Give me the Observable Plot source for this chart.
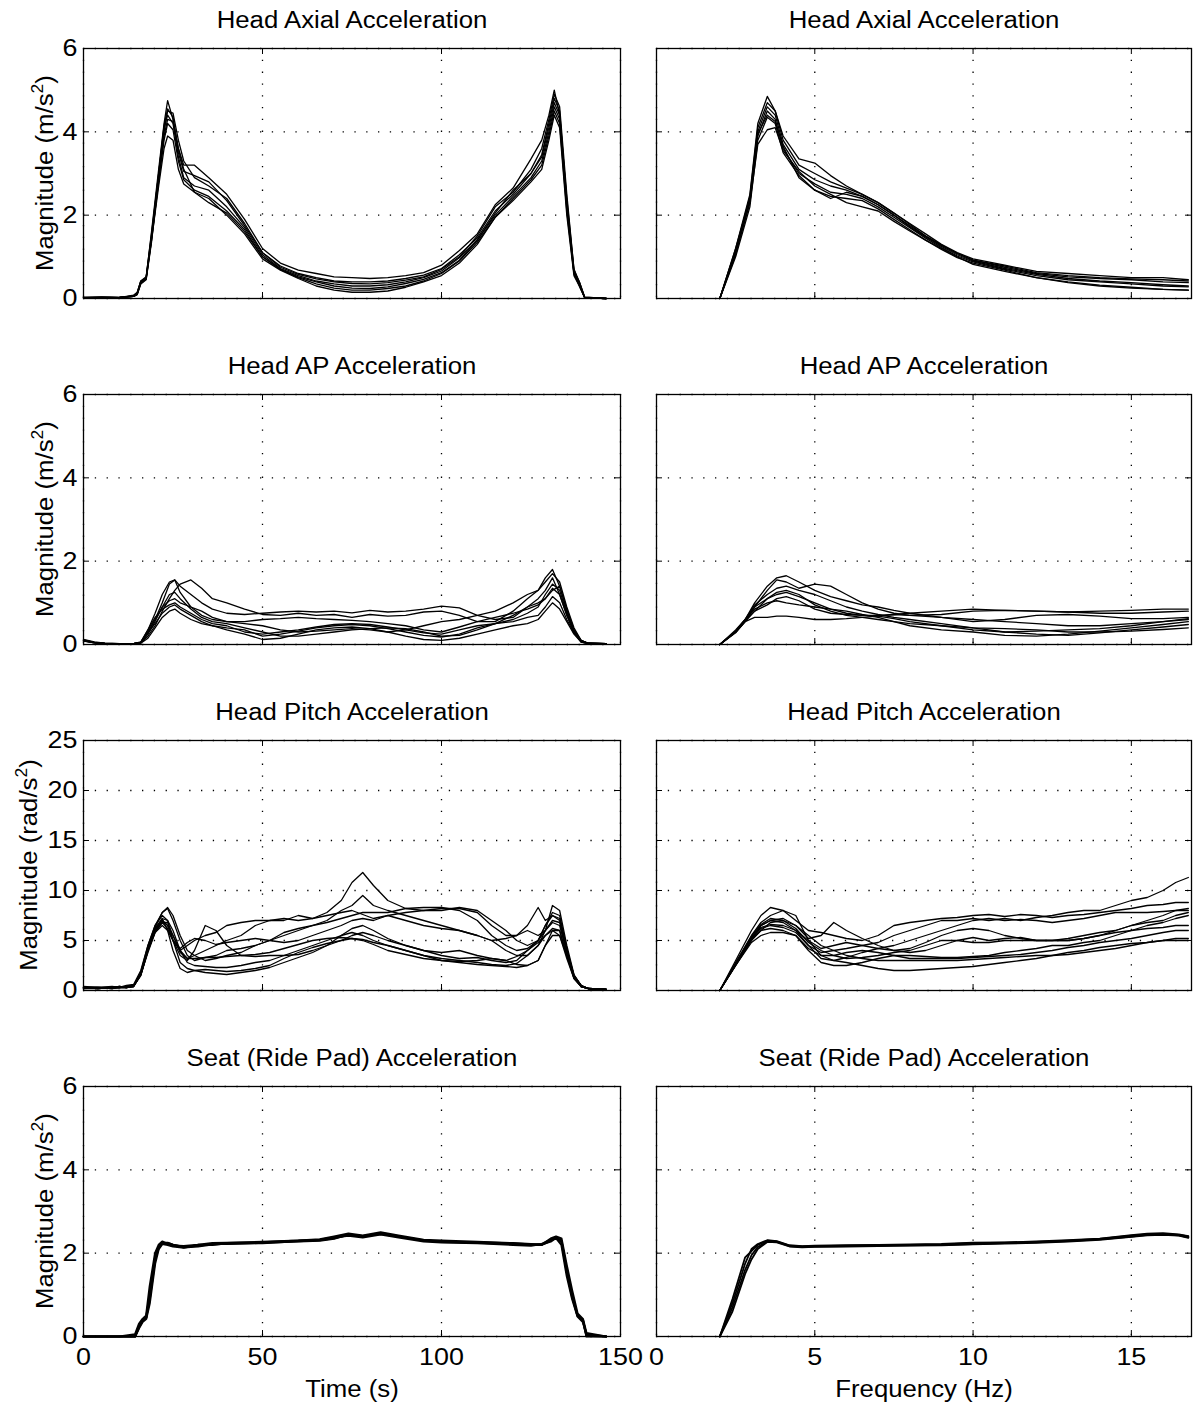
<!DOCTYPE html>
<html><head><meta charset="utf-8">
<script src="https://cdn.jsdelivr.net/npm/d3@7"></script>
<script src="https://cdn.jsdelivr.net/npm/@observablehq/plot@0.6"></script>
<style>
body{margin:0;background:#fff;}
#page{position:relative;width:1196px;height:1410px;font-family:"Liberation Sans",Arial,Helvetica,sans-serif;color:#000;overflow:hidden;}
.ttl{position:absolute;font-size:23px;line-height:1;white-space:nowrap;transform:translateX(-50%) scaleX(1.12);}
.ylab{position:absolute;font-size:23px;line-height:1;white-space:nowrap;transform:translate(-50%,-50%) rotate(-90deg) scaleX(1.12);}
.ylab sup{font-size:0.68em;line-height:0;vertical-align:0.62em;}
.xlab{position:absolute;font-size:23px;line-height:1;white-space:nowrap;transform:translateX(-50%) scaleX(1.12);}
</style></head>
<body><div id="page"></div>
<script>
// ---------- tick labels ----------
const timeTicks = [0, 50, 100, 150];
const freqTicks = [0, 5, 10, 15];
const magTicks = [0, 2, 4, 6];
const pitchTicks = [0, 5, 10, 15, 20, 25];

// ---------- Head Axial, time domain ----------
const axialTime = [0,5,10,14,15,16,17.5,19,21,22.5,23.5,25,26.5,28,31,35,40,45,50,55,60,65,70,75,80,85,90,95,100,105,110,115,120,125,128,130,131.5,133,135,137,138.5,140,146];
const axialTimeTrials = [
 [0.02,0.03,0.02,0.08,0.15,0.4,0.5,1.6,3.1,4.2,4.75,4.3,3.6,3.2,3.2,2.9,2.5,1.9,1.2,0.85,0.68,0.6,0.52,0.5,0.48,0.5,0.55,0.62,0.8,1.15,1.55,2.25,2.65,3.35,3.8,4.4,5.0,4.4,2.4,0.7,0.35,0.02,0],
 [0.03,0.02,0.03,0.05,0.1,0.35,0.45,1.4,2.9,4.0,4.5,4.45,3.8,3.3,2.9,2.7,2.4,1.8,1.1,0.78,0.6,0.5,0.42,0.4,0.4,0.42,0.48,0.56,0.72,1.05,1.45,2.1,2.5,3.0,3.45,4.2,4.8,4.5,2.3,0.65,0.4,0.03,0],
 [0.02,0.02,0.02,0.06,0.12,0.42,0.5,1.5,3.0,4.1,4.4,4.2,3.4,2.9,2.7,2.6,2.2,1.7,1.05,0.72,0.55,0.42,0.35,0.3,0.3,0.33,0.4,0.5,0.66,0.98,1.4,2.0,2.45,2.9,3.3,4.0,4.6,4.3,2.2,0.6,0.35,0.02,0],
 [0.02,0.04,0.02,0.05,0.1,0.38,0.48,1.45,2.8,3.8,4.2,4.05,3.3,2.85,2.6,2.45,2.1,1.65,1.0,0.7,0.5,0.35,0.25,0.2,0.2,0.24,0.3,0.42,0.6,0.9,1.35,1.95,2.4,2.85,3.2,3.9,4.5,4.2,2.1,0.6,0.3,0.02,0],
 [0.01,0.02,0.03,0.05,0.1,0.4,0.5,1.4,2.7,3.6,3.9,3.8,3.1,2.75,2.55,2.4,2.0,1.55,0.95,0.68,0.48,0.3,0.2,0.15,0.15,0.18,0.27,0.4,0.55,0.85,1.3,1.95,2.35,2.8,3.1,3.8,4.4,4.1,2.0,0.55,0.3,0.02,0],
 [0.02,0.03,0.02,0.07,0.14,0.42,0.52,1.55,3.0,4.15,4.55,4.35,3.5,3.05,2.95,2.8,2.35,1.75,1.1,0.75,0.58,0.47,0.4,0.36,0.35,0.38,0.44,0.52,0.7,1.0,1.5,2.2,2.55,3.1,3.6,4.3,4.9,4.6,2.5,0.7,0.4,0.03,0],
 [0.02,0.02,0.02,0.05,0.1,0.36,0.46,1.35,2.85,3.9,4.3,4.25,3.6,3.1,2.55,2.3,2.05,1.6,1.0,0.7,0.52,0.4,0.3,0.25,0.24,0.28,0.36,0.46,0.62,0.92,1.4,2.05,2.6,3.0,3.4,4.1,4.7,4.4,2.3,0.62,0.38,0.02,0]
];

// ---------- Head Axial, frequency domain ----------
const axialFreq = [2,2.5,2.95,3.2,3.5,3.75,4,4.5,5,5.5,6,6.5,7,7.5,8,8.5,9,9.5,10,11,12,13,14,15,16,16.8];
const axialFreqTrials = [
 [0,1.2,2.5,4.2,4.85,4.5,3.8,3.2,3.0,2.8,2.65,2.5,2.3,2.05,1.8,1.55,1.3,1.1,0.95,0.8,0.65,0.6,0.55,0.5,0.5,0.45],
 [0,1.1,2.3,4.0,4.6,4.4,3.7,3.1,2.85,2.7,2.6,2.45,2.25,2.0,1.75,1.5,1.28,1.08,0.92,0.75,0.6,0.52,0.48,0.45,0.4,0.38],
 [0,1.2,2.4,3.9,4.5,4.3,3.6,3.0,2.75,2.55,2.5,2.4,2.2,1.95,1.7,1.45,1.22,1.02,0.88,0.7,0.55,0.45,0.4,0.35,0.3,0.28],
 [0,1.0,2.2,3.8,4.35,4.2,3.5,2.95,2.6,2.45,2.4,2.35,2.15,1.9,1.65,1.4,1.18,0.98,0.85,0.68,0.5,0.4,0.32,0.27,0.22,0.2],
 [0,1.1,2.3,3.7,4.05,4.1,3.55,3.05,2.7,2.5,2.3,2.2,2.1,1.85,1.62,1.4,1.2,1.0,0.82,0.65,0.5,0.38,0.3,0.25,0.22,0.2],
 [0,1.15,2.45,4.1,4.7,4.5,3.9,3.35,3.25,2.95,2.7,2.5,2.3,2.05,1.78,1.5,1.28,1.08,0.92,0.78,0.62,0.55,0.5,0.47,0.45,0.42],
 [0,1.05,2.35,3.95,4.4,4.25,3.65,2.9,2.6,2.4,2.55,2.45,2.25,2.0,1.72,1.48,1.25,1.05,0.9,0.72,0.58,0.48,0.42,0.38,0.33,0.3]
];

// ---------- Head AP, time domain ----------
const apTime = [0,3,6,10,14,16,18,20,22,24,25.5,27,30,33,36,40,45,50,55,60,65,70,75,80,85,90,95,100,105,110,115,120,124,127,129,131,133,135,137,139,141,146];
const apTimeTrials = [
 [0.12,0.06,0.03,0.02,0.02,0.05,0.3,0.6,1.0,1.45,1.55,1.4,1.2,1.0,0.85,0.75,0.72,0.75,0.78,0.8,0.78,0.8,0.76,0.82,0.78,0.8,0.85,0.92,0.88,0.7,0.6,0.65,0.9,1.1,1.3,1.6,1.2,0.7,0.3,0.1,0.03,0.02],
 [0.1,0.05,0.02,0.02,0.02,0.04,0.2,0.45,0.8,1.1,1.3,1.45,1.55,1.35,1.1,1.0,0.85,0.72,0.7,0.75,0.7,0.72,0.65,0.72,0.68,0.7,0.78,0.8,0.7,0.55,0.55,0.8,1.1,1.3,1.6,1.8,1.4,0.8,0.35,0.1,0.03,0.02],
 [0.08,0.04,0.02,0.02,0.02,0.06,0.35,0.65,0.85,0.95,1.0,0.9,0.75,0.6,0.5,0.45,0.3,0.25,0.3,0.35,0.42,0.48,0.5,0.48,0.42,0.35,0.28,0.25,0.35,0.45,0.5,0.6,0.75,0.9,1.2,1.45,1.3,0.75,0.3,0.08,0.03,0.02],
 [0.1,0.05,0.02,0.02,0.02,0.03,0.15,0.4,0.65,0.8,0.85,0.75,0.6,0.5,0.45,0.35,0.25,0.12,0.15,0.25,0.35,0.4,0.42,0.38,0.3,0.2,0.12,0.1,0.15,0.25,0.35,0.45,0.5,0.6,0.8,1.0,0.85,0.55,0.25,0.06,0.02,0.02],
 [0.09,0.04,0.02,0.02,0.02,0.05,0.35,0.75,1.2,1.5,1.55,1.25,0.9,0.7,0.6,0.55,0.5,0.45,0.35,0.3,0.32,0.35,0.38,0.35,0.3,0.35,0.45,0.55,0.6,0.7,0.8,1.0,1.2,1.3,1.5,1.7,1.5,0.9,0.4,0.1,0.03,0.02],
 [0.11,0.05,0.03,0.02,0.02,0.04,0.25,0.55,0.9,1.2,1.25,1.1,0.85,0.65,0.55,0.5,0.4,0.3,0.2,0.2,0.25,0.3,0.35,0.38,0.4,0.38,0.3,0.2,0.22,0.35,0.5,0.7,0.9,1.0,1.1,1.3,1.4,0.85,0.35,0.08,0.03,0.02],
 [0.1,0.04,0.02,0.02,0.02,0.05,0.3,0.6,0.9,1.05,1.1,1.0,0.9,0.8,0.65,0.55,0.55,0.6,0.62,0.65,0.62,0.6,0.58,0.55,0.5,0.45,0.35,0.3,0.42,0.55,0.65,0.75,0.85,0.95,1.1,1.35,1.2,0.7,0.3,0.07,0.02,0.02],
 [0.09,0.05,0.02,0.02,0.02,0.04,0.28,0.5,0.75,0.9,0.95,0.85,0.7,0.55,0.45,0.4,0.35,0.2,0.25,0.32,0.4,0.45,0.48,0.45,0.38,0.3,0.22,0.18,0.25,0.4,0.5,0.55,0.65,0.7,0.9,1.15,1.0,0.6,0.28,0.06,0.02,0.02]
];

// ---------- Head AP, frequency domain ----------
const apFreq = [2,2.5,2.8,3.1,3.5,3.8,4.1,4.5,5,5.5,6,6.5,7,7.5,8,9,10,11,12,13,14,15,16,16.8];
const apFreqTrials = [
 [0,0.35,0.6,1.0,1.4,1.6,1.65,1.5,1.3,1.15,1.05,0.95,0.9,0.82,0.75,0.65,0.6,0.55,0.5,0.45,0.45,0.5,0.55,0.6],
 [0,0.3,0.55,0.9,1.3,1.55,1.5,1.35,1.45,1.4,1.2,1.0,0.85,0.75,0.7,0.72,0.8,0.82,0.8,0.78,0.8,0.82,0.85,0.85],
 [0,0.32,0.6,0.95,1.2,1.35,1.4,1.3,1.2,1.05,0.9,0.8,0.72,0.65,0.6,0.5,0.4,0.3,0.25,0.22,0.28,0.35,0.42,0.48],
 [0,0.28,0.55,0.8,1.1,1.2,1.25,1.15,1.0,0.85,0.75,0.7,0.68,0.62,0.55,0.45,0.35,0.3,0.32,0.35,0.38,0.45,0.55,0.62],
 [0,0.3,0.55,0.65,0.65,0.68,0.68,0.65,0.6,0.6,0.62,0.65,0.68,0.72,0.75,0.8,0.85,0.82,0.8,0.78,0.75,0.75,0.78,0.8],
 [0,0.3,0.58,0.85,1.0,1.05,1.0,0.95,0.9,0.85,0.8,0.72,0.65,0.55,0.45,0.35,0.3,0.22,0.2,0.25,0.32,0.4,0.48,0.55],
 [0,0.32,0.6,0.9,1.1,1.25,1.3,1.2,0.95,0.8,0.7,0.65,0.6,0.55,0.5,0.45,0.4,0.38,0.35,0.3,0.3,0.32,0.36,0.4],
 [0,0.3,0.56,0.8,0.95,1.1,1.15,1.05,0.85,0.75,0.72,0.7,0.7,0.72,0.7,0.65,0.55,0.6,0.7,0.72,0.68,0.62,0.62,0.65]
];

// ---------- Head Pitch, time domain ----------
const pitchTime = [0,4,8,10,12,14,16,18,20,22,23.5,25,27,29,31,34,37,40,44,48,52,56,60,64,68,72,75,78,81,85,90,95,100,105,110,114,118,121,124,127,129,131,133,135,137,139,141,146];
const pitchTimeTrials = [
 [0.3,0.2,0.3,0.4,0.3,0.5,1.5,4.0,6.0,7.0,6.5,5.5,4.0,3.2,3.5,4.0,4.5,5.0,5.5,6.5,7.0,7.0,7.5,7.2,7.8,9.0,10.8,11.8,10.5,9.0,8.2,8.0,8.0,8.3,8.0,7.0,6.0,5.0,4.5,5.0,6.5,7.5,7.0,4.0,1.5,0.5,0.2,0.1],
 [0.4,0.3,0.2,0.3,0.5,0.6,2.0,4.5,6.5,7.8,8.2,7.0,5.0,3.5,3.0,3.3,3.5,4.0,4.2,4.5,5.0,5.8,6.2,6.5,6.8,7.2,7.5,7.8,7.8,7.8,8.2,8.3,8.3,8.0,7.0,5.5,4.5,4.0,4.2,5.0,6.5,7.8,7.5,4.2,1.5,0.4,0.2,0.1],
 [0.3,0.2,0.3,0.3,0.4,0.5,1.8,4.2,6.2,7.2,6.0,4.0,2.2,1.8,2.0,2.1,2.0,1.9,2.0,2.2,2.5,3.2,3.8,4.3,4.7,5.0,5.2,5.1,4.8,4.5,4.0,3.5,3.2,3.0,2.8,2.6,2.5,2.7,3.5,4.5,5.5,6.0,5.5,3.5,1.3,0.4,0.2,0.1],
 [0.2,0.3,0.2,0.4,0.3,0.4,1.6,3.8,5.8,6.8,6.2,5.0,3.5,3.0,4.0,6.5,6.0,4.5,3.5,3.4,3.5,3.5,3.6,4.0,4.5,5.0,5.5,5.8,5.5,5.0,4.5,4.0,3.5,3.2,3.3,3.0,2.8,3.0,4.0,5.0,6.0,6.8,6.5,3.8,1.4,0.5,0.2,0.1],
 [0.3,0.3,0.4,0.3,0.3,0.5,1.7,4.2,6.3,7.8,8.3,7.5,5.5,4.0,3.5,3.0,3.2,3.5,3.8,4.5,5.0,5.5,6.0,6.5,7.0,8.0,8.5,9.5,8.5,8.0,7.5,7.0,6.5,6.0,5.5,5.0,4.0,3.5,3.5,4.5,6.0,8.5,8.0,4.5,1.6,0.5,0.2,0.1],
 [0.3,0.2,0.3,0.3,0.3,0.4,1.5,4.0,5.8,6.5,6.0,5.0,4.0,4.5,5.0,5.5,5.8,6.5,6.8,7.0,7.0,7.2,7.0,7.2,7.5,7.8,8.0,7.6,7.2,7.5,7.0,6.5,6.2,6.0,5.5,5.0,5.2,5.5,6.0,5.5,6.0,7.0,6.8,4.0,1.5,0.5,0.2,0.1],
 [0.2,0.2,0.3,0.3,0.4,0.5,1.8,4.5,6.5,7.5,7.0,5.0,2.8,2.2,2.0,1.8,1.7,1.6,1.8,2.0,2.3,2.8,3.3,3.8,4.5,5.5,6.2,6.5,6.0,5.2,4.5,4.0,3.8,4.0,3.5,3.2,3.0,2.6,2.5,3.0,4.5,6.0,6.0,3.5,1.2,0.4,0.2,0.1],
 [0.3,0.3,0.2,0.4,0.3,0.4,1.6,4.0,5.9,6.8,6.8,5.5,3.8,3.2,3.2,3.3,3.3,3.4,3.5,3.6,3.8,4.2,4.6,5.0,5.2,5.3,5.2,5.0,4.6,4.0,3.6,3.2,3.0,2.9,3.0,3.2,3.0,3.4,4.0,4.8,5.5,6.2,6.0,3.5,1.3,0.4,0.2,0.1],
 [0.3,0.2,0.3,0.3,0.3,0.5,1.7,4.3,6.2,7.0,6.5,5.0,4.2,4.8,5.2,5.0,4.6,4.8,5.0,5.2,5.0,4.8,5.0,5.5,6.0,6.5,7.0,7.2,7.0,7.5,7.8,8.0,8.2,8.2,7.8,6.5,5.5,5.5,6.5,8.3,7.0,7.5,7.2,4.0,1.4,0.5,0.2,0.1],
 [0.3,0.3,0.3,0.3,0.4,0.4,1.6,4.1,6.0,7.2,7.0,6.0,4.0,2.8,2.5,2.4,2.3,2.3,2.5,2.8,3.0,3.5,4.0,4.5,5.0,5.5,5.8,5.5,5.0,4.5,4.0,3.5,3.0,2.8,2.6,2.5,2.4,2.3,2.5,3.0,4.5,5.5,5.5,3.2,1.2,0.4,0.2,0.1]
];

// ---------- Head Pitch, frequency domain ----------
const pitchFreq = [2,2.5,3,3.3,3.6,4,4.4,4.8,5.2,5.6,6,6.5,7,7.5,8,8.5,9,9.5,10,10.5,11,11.5,12,12.5,13,13.5,14,14.5,15,15.5,16,16.4,16.8];
const pitchFreqTrials = [
 [0,2.5,5.0,6.5,7.0,6.8,6.0,4.5,3.8,4.0,4.2,4.5,4.8,5.5,6.0,6.5,7.0,7.0,7.2,7.0,7.2,7.0,7.3,7.5,7.8,8.0,8.0,8.5,9.0,9.3,10.0,10.8,11.3],
 [0,3.0,6.0,7.5,8.3,8.0,7.0,6.0,5.8,5.5,5.2,5.0,5.5,6.5,6.8,7.0,7.2,7.3,7.5,7.6,7.4,7.6,7.5,7.3,7.5,7.6,7.8,8.0,8.2,8.5,8.6,8.8,8.8],
 [0,2.8,5.5,6.8,7.5,8.0,7.5,5.0,3.5,3.0,2.8,2.5,2.2,2.0,2.0,2.1,2.2,2.3,2.4,2.6,2.8,3.0,3.2,3.5,3.8,4.0,4.3,4.5,4.7,4.8,5.0,5.0,5.0],
 [0,2.6,5.2,6.5,7.0,7.2,6.5,5.2,5.5,6.8,6.0,5.2,4.5,4.0,3.8,4.0,4.5,5.0,5.3,5.0,5.2,5.3,5.0,5.0,5.0,5.2,5.5,6.0,6.5,7.0,7.5,8.0,8.2],
 [0,2.7,5.3,6.2,6.5,6.3,5.8,4.5,3.2,3.0,3.3,3.8,4.2,4.5,5.0,5.5,6.0,6.5,7.0,7.2,7.0,7.1,7.0,6.8,7.0,7.2,7.5,7.8,7.8,7.8,7.9,8.0,8.0],
 [0,2.5,5.0,6.0,6.2,6.0,5.5,4.0,2.8,2.5,2.5,2.8,3.2,3.5,3.5,3.4,3.3,3.3,3.4,3.5,3.8,4.0,4.2,4.5,4.5,4.8,5.0,5.5,6.0,6.5,6.8,7.2,7.5],
 [0,2.6,5.1,6.0,6.8,7.0,6.2,4.8,4.0,3.5,3.2,3.3,3.5,3.8,4.0,4.5,5.0,5.0,4.8,4.8,5.0,5.0,5.0,5.0,5.0,5.2,5.5,5.8,6.0,6.2,6.3,6.5,6.5],
 [0,2.5,4.8,5.5,5.8,5.8,5.5,4.2,3.5,3.5,3.8,4.0,3.8,3.5,3.2,3.2,3.2,3.2,3.3,3.4,3.5,3.6,3.8,4.0,4.3,4.5,4.8,5.0,5.2,5.5,5.8,6.0,6.0],
 [0,2.7,5.4,6.6,7.2,7.0,6.5,5.5,4.5,4.0,3.5,3.2,3.0,3.0,3.0,3.0,3.0,3.0,3.1,3.2,3.3,3.4,3.5,3.5,3.6,3.8,4.0,4.2,4.5,4.8,5.0,5.2,5.2],
 [0,2.6,5.2,6.3,6.6,6.5,6.0,5.0,4.2,4.5,4.8,4.5,4.2,4.0,4.2,4.8,5.5,6.0,6.2,6.0,5.5,5.2,5.0,5.0,5.2,5.5,5.8,6.0,6.5,6.8,7.0,7.5,7.8]
];

// ---------- Seat (Ride Pad), time domain ----------
const seatTime = [0,10,14.4,15.5,16.5,17.5,18.5,20,21,22,23.5,25,28,32,36,40,50,60,66,70,74,78,83,88,95,100,110,120,125,128,130.5,132,133.5,135,136.5,138,139.5,140.5,146];
const seatTimeTrials = [
 [0,0,0,0.25,0.4,0.45,1.0,1.9,2.15,2.25,2.25,2.2,2.15,2.18,2.22,2.22,2.25,2.28,2.3,2.35,2.45,2.4,2.47,2.4,2.3,2.28,2.25,2.22,2.2,2.2,2.3,2.38,2.3,1.6,1.0,0.5,0.4,0,0],
 [0,0,0,0.2,0.35,0.42,0.8,1.75,2.1,2.22,2.2,2.16,2.13,2.2,2.2,2.24,2.26,2.3,2.32,2.38,2.42,2.38,2.45,2.38,2.28,2.26,2.24,2.2,2.18,2.22,2.32,2.36,2.2,1.45,0.9,0.48,0.35,0.05,0],
 [0,0,0.05,0.3,0.42,0.5,1.2,2.0,2.2,2.28,2.22,2.18,2.17,2.2,2.24,2.25,2.27,2.3,2.33,2.4,2.47,2.42,2.5,2.42,2.32,2.3,2.27,2.24,2.22,2.2,2.35,2.4,2.35,1.7,1.1,0.55,0.42,0.08,0],
 [0,0,0,0.22,0.38,0.45,0.9,1.85,2.12,2.24,2.24,2.2,2.14,2.16,2.21,2.23,2.24,2.29,2.31,2.36,2.44,2.41,2.46,2.4,2.31,2.27,2.26,2.23,2.21,2.21,2.28,2.37,2.28,1.55,0.95,0.5,0.38,0.02,0]
];

// ---------- Seat (Ride Pad), frequency domain ----------
const seatFreq = [2,2.4,2.8,3.0,3.2,3.5,3.8,4.2,4.6,5,6,7,8,9,10,11,12,13,14,15,15.5,16,16.5,16.8];
const seatFreqTrials = [
 [0,0.9,1.9,2.05,2.2,2.3,2.28,2.18,2.16,2.17,2.18,2.19,2.2,2.21,2.24,2.25,2.27,2.3,2.34,2.42,2.45,2.46,2.44,2.4],
 [0,0.7,1.6,1.95,2.15,2.28,2.27,2.17,2.15,2.16,2.17,2.18,2.19,2.2,2.22,2.24,2.26,2.29,2.33,2.4,2.44,2.45,2.43,2.38],
 [0,0.8,1.75,2.1,2.22,2.31,2.29,2.19,2.17,2.18,2.19,2.2,2.21,2.22,2.25,2.26,2.28,2.31,2.35,2.43,2.47,2.48,2.45,2.41],
 [0,0.6,1.5,1.85,2.1,2.27,2.26,2.16,2.14,2.15,2.16,2.17,2.18,2.19,2.21,2.23,2.25,2.28,2.32,2.39,2.43,2.44,2.42,2.37]
];

// ---------- titles & labels ----------
const rowTitles = ["Head Axial Acceleration", "Head AP Acceleration", "Head Pitch Acceleration", "Seat (Ride Pad) Acceleration"];
const yLabels = ["Magnitude (m/s<sup>2</sup>)", "Magnitude (m/s<sup>2</sup>)", "Magnitude (rad/s<sup>2</sup>)", "Magnitude (m/s<sup>2</sup>)"];
const xLabels = ["Time (s)", "Frequency (Hz)"];

// ---------- layout ----------
const page = document.getElementById("page");
const STRETCH = 1.12;
const FONT = "'Liberation Sans', Arial, Helvetica, sans-serif";
const cols = [
  {left: 83, width: 537, domain: [0, 150], ticks: timeTicks},
  {left: 656, width: 535, domain: [0, 16.9], ticks: freqTicks}
];
const rowTop = r => 48 + 346 * r;
const H = 250;
const yLabelX = [45, 45, 29, 45];

const panels = [
  {row: 0, col: 0, grid: axialTime, trials: axialTimeTrials, ymax: 6, yticks: magTicks, sw: 1.3},
  {row: 0, col: 1, grid: axialFreq, trials: axialFreqTrials, ymax: 6, yticks: magTicks, sw: 1.3},
  {row: 1, col: 0, grid: apTime, trials: apTimeTrials, ymax: 6, yticks: magTicks, sw: 1.3},
  {row: 1, col: 1, grid: apFreq, trials: apFreqTrials, ymax: 6, yticks: magTicks, sw: 1.3},
  {row: 2, col: 0, grid: pitchTime, trials: pitchTimeTrials, ymax: 25, yticks: pitchTicks, sw: 1.3},
  {row: 2, col: 1, grid: pitchFreq, trials: pitchFreqTrials, ymax: 25, yticks: pitchTicks, sw: 1.3},
  {row: 3, col: 0, grid: seatTime, trials: seatTimeTrials, ymax: 6, yticks: magTicks, sw: 2.2},
  {row: 3, col: 1, grid: seatFreq, trials: seatFreqTrials, ymax: 6, yticks: magTicks, sw: 1.8}
];

function drawPanel(p) {
  const c = cols[p.col];
  const top = rowTop(p.row);
  const bottom = p.row === 3;
  const mL = p.col === 0 ? 50 : 14, mR = p.col === 0 ? 22 : 26, mT = 6, mB = bottom ? 46 : 6;
  const rows = p.trials.flatMap((ys, k) => ys.map((y, i) => ({x: p.grid[i], y, trial: k})));
  const dots = {stroke: "#000", strokeOpacity: 1, strokeWidth: 1.3, strokeDasharray: "1.3,10.5"};
  const marks = [
    Plot.gridX(c.ticks, dots),
    Plot.gridY(p.yticks, dots),
    Plot.line(rows, {x: "x", y: "y", z: "trial", stroke: "#000", strokeWidth: p.sw}),
    Plot.tickX(c.ticks, {x: d => d, insetTop: H - 6, stroke: "#000"}),
    Plot.tickX(c.ticks, {x: d => d, insetBottom: H - 6, stroke: "#000"}),
    Plot.tickY(p.yticks, {y: d => d, insetRight: c.width - 6, stroke: "#000"}),
    Plot.tickY(p.yticks, {y: d => d, insetLeft: c.width - 6, stroke: "#000"}),
    Plot.frame({stroke: "#000", strokeWidth: 1.3})
  ];
  if (p.col === 0) marks.push(Plot.axisY(p.yticks, {anchor: "left", tickSize: 0, tickPadding: 6, fontSize: 24, label: null}));
  if (bottom) marks.push(Plot.axisX(c.ticks, {anchor: "bottom", tickSize: 0, tickPadding: 11, fontSize: 24, label: null}));
  const svg = Plot.plot({
    width: mL + c.width + mR,
    height: mT + H + mB,
    marginLeft: mL, marginRight: mR, marginTop: mT, marginBottom: mB,
    x: {domain: c.domain, label: null, axis: null},
    y: {domain: [0, p.ymax], label: null, axis: null},
    style: `background:transparent;overflow:visible;max-width:none;font-family:${FONT};font-size:24px;color:#000;`,
    marks
  });
  svg.querySelectorAll('g[aria-label="y-axis tick label"] text, g[aria-label="x-axis tick label"] text').forEach(t => {
    t.setAttribute("transform", (t.getAttribute("transform") || "") + ` scale(${STRETCH},1)`);
  });
  svg.style.position = "absolute";
  svg.style.left = (c.left - mL) + "px";
  svg.style.top = (top - mT) + "px";
  page.appendChild(svg);

  const t = document.createElement("div");
  t.className = "ttl";
  t.textContent = rowTitles[p.row];
  t.style.left = (c.left + c.width / 2) + "px";
  t.style.top = (top - 39) + "px";
  page.appendChild(t);

  if (p.col === 0) {
    const yl = document.createElement("div");
    yl.className = "ylab";
    yl.innerHTML = yLabels[p.row];
    yl.style.left = yLabelX[p.row] + "px";
    yl.style.top = (top + H / 2) + "px";
    page.appendChild(yl);
  }
  if (bottom) {
    const xl = document.createElement("div");
    xl.className = "xlab";
    xl.textContent = xLabels[p.col];
    xl.style.left = (c.left + c.width / 2) + "px";
    xl.style.top = (top + H + 42) + "px";
    page.appendChild(xl);
  }
}
panels.forEach(drawPanel);
</script>
</body></html>
